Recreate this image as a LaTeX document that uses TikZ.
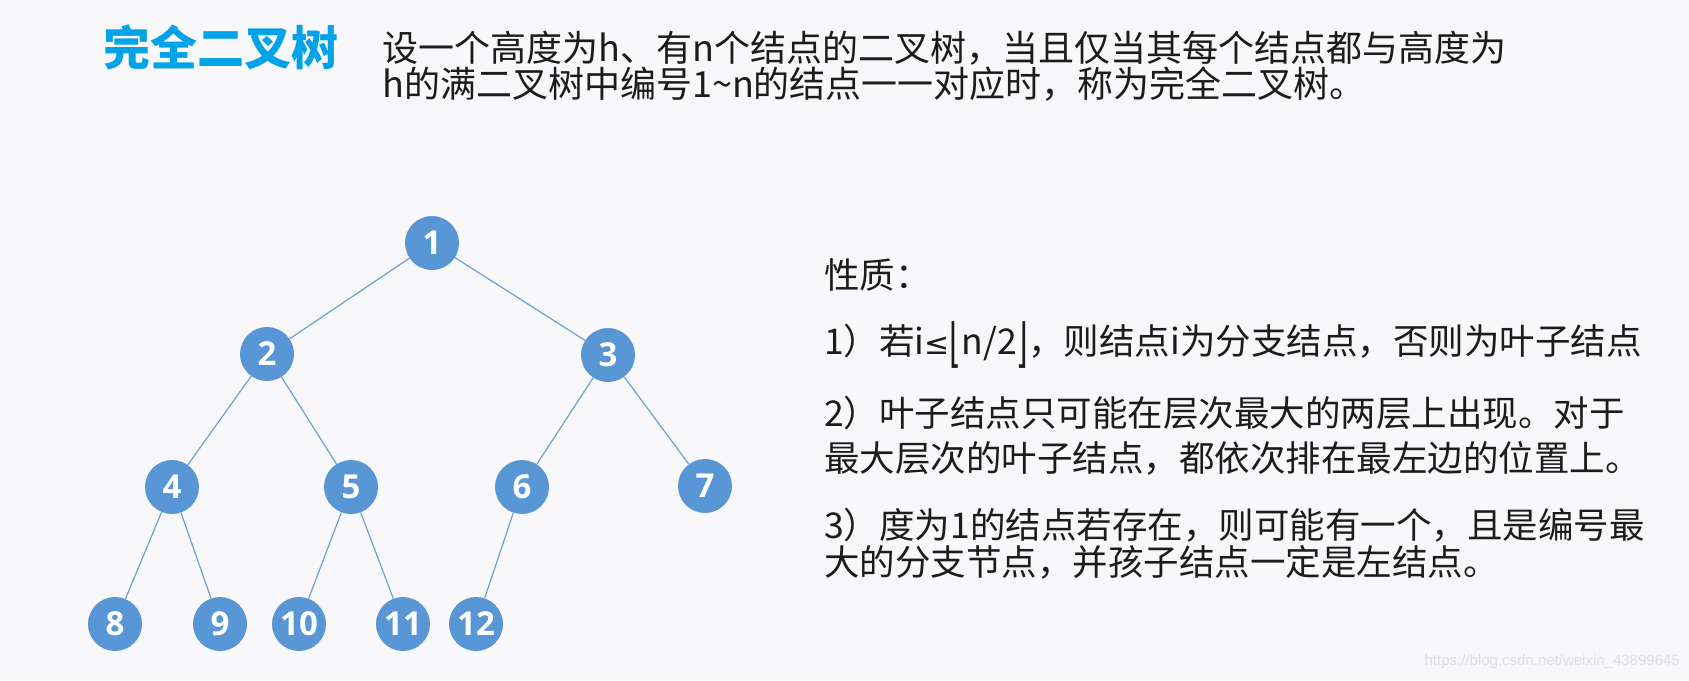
\documentclass[tikz,border=0pt]{standalone}
\usepackage{fontspec}
\setmainfont{Noto Sans CJK SC}
\newfontfamily\numfont{Open Sans}
\newfontfamily\dejavu{DejaVu Sans}
\newfontfamily\wmfont{Liberation Sans}
\definecolor{nodeblue}{RGB}{88,150,214}
\definecolor{edgeblue}{RGB}{110,160,212}
\definecolor{titleblue}{RGB}{0,162,232}
\definecolor{textgray}{RGB}{28,28,28}
\definecolor{bgcol}{RGB}{248,248,250}
\definecolor{wmcol}{RGB}{222,222,226}
\newcommand{\tallbr}[1]{\raisebox{-0.2em}{\scalebox{1}[1.75]{\dejavu\fontsize{30}{30}\selectfont #1}}}
\tikzset{
  tn/.style={circle, fill=nodeblue, minimum size=54pt, inner sep=0pt, text=white,
    font=\numfont\bfseries\fontsize{33}{33}\selectfont},
  edge/.style={draw=edgeblue, line width=1.2pt},
  desc/.style={anchor=west, inner sep=0pt, text=textgray, font=\fontsize{36}{36}\selectfont},
  prop/.style={anchor=west, inner sep=0pt, text=textgray, font=\fontsize{35.5}{36}\selectfont},
}
\begin{document}
\begin{tikzpicture}[x=1pt, y=-1pt]
\fill[bgcol] (0,0) rectangle (1689,680);
\useasboundingbox (0,0) rectangle (1689,680);

% title and definition
\node[anchor=west, inner sep=0pt, text=titleblue, font=\bfseries\fontsize{47}{47}\selectfont] (title) at (103,47) {完全二叉树};
\node[desc] (d1) at (382,48.5) {设一个高度为h、有n个结点的二叉树，当且仅当其每个结点都与高度为};
\node[desc] (d2) at (382,84) {h的满二叉树中编号1\textasciitilde n的结点一一对应时，称为完全二叉树。};

% tree
\node[tn] (n1) at (432,243) {1};
\node[tn] (n2) at (267,354) {2};
\node[tn] (n3) at (608,355) {3};
\node[tn] (n4) at (172,487) {4};
\node[tn] (n5) at (351,487) {5};
\node[tn] (n6) at (522,487) {6};
\node[tn] (n7) at (705,486) {7};
\node[tn] (n8) at (115,624) {8};
\node[tn] (n9) at (220,624) {9};
\node[tn] (n10) at (299,624) {10};
\node[tn] (n11) at (403,624) {11};
\node[tn] (n12) at (476,624) {12};

\draw[edge] (n1) -- (n2);
\draw[edge] (n1) -- (n3);
\draw[edge] (n2) -- (n4);
\draw[edge] (n2) -- (n5);
\draw[edge] (n3) -- (n6);
\draw[edge] (n3) -- (n7);
\draw[edge] (n4) -- (n8);
\draw[edge] (n4) -- (n9);
\draw[edge] (n5) -- (n10);
\draw[edge] (n5) -- (n11);
\draw[edge] (n6) -- (n12);

% properties
\node[prop] (p0) at (824,275) {性质：};
\node[prop] (p1) at (824,345) {1）若i{\dejavu\fontsize{30}{30}\selectfont ≤}\tallbr{⌊}n/2\tallbr{⌋}，则结点i为分支结点，否则为叶子结点};
\node[prop] (p2) at (824,413) {2）叶子结点只可能在层次最大的两层上出现。对于};
\node[prop] (p3) at (824,458) {最大层次的叶子结点，都依次排在最左边的位置上。};
\node[prop] (p4) at (824,525) {3）度为1的结点若存在，则可能有一个，且是编号最};
\node[prop] (p5) at (824,562) {大的分支节点，并孩子结点一定是左结点。};

% watermark
\node[anchor=east, inner sep=0pt, text=wmcol, font=\wmfont\fontsize{15}{15}\selectfont] (wm) at (1680,662) {https://blog.csdn.net/weixin\_43899645};
\end{tikzpicture}
\end{document}
